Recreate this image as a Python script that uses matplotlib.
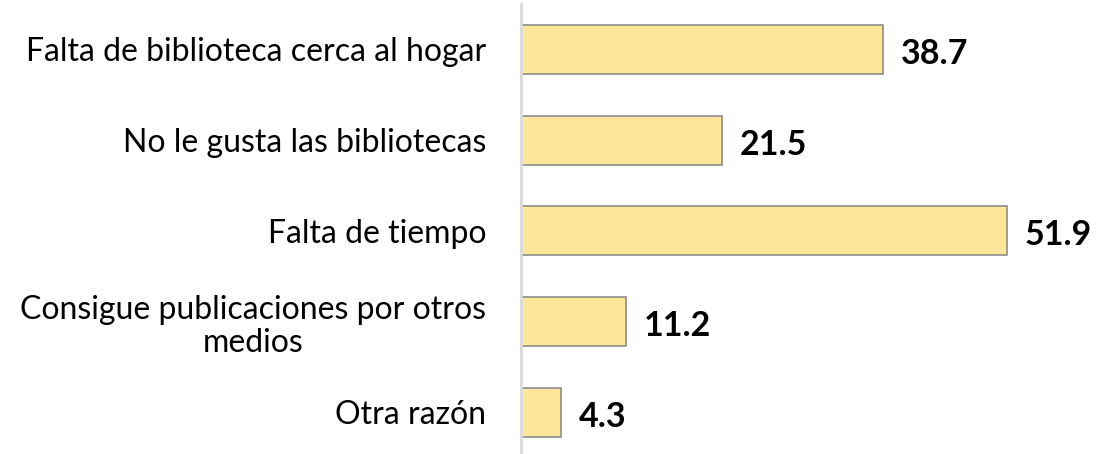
import matplotlib
matplotlib.use("Agg")
import matplotlib.pyplot as plt

categories = ["Falta de biblioteca cerca al hogar", "No le gusta las bibliotecas",
              "Falta de tiempo", "Consigue publicaciones por otros\nmedios", "Otra razón"]
values = [38.7, 21.5, 51.9, 11.2, 4.3]
value_labels = ["38.7", "21.5", "51.9", "11.2", "4.3"]

plt.rcParams['font.family'] = ['Lato', 'DejaVu Sans']
fig = plt.figure(figsize=(11.2, 4.54), dpi=100)
ax = fig.add_axes([521/1120, 0, 1 - 521/1120, 450/454])

pos = list(range(len(categories)))
ax.barh(pos, values, height=0.54, color="#FFE699", edgecolor="#8C8C8C", linewidth=1.2)
ax.set_xlim(0, 64)
ax.set_ylim(4.46, -0.5)
ax.set_yticks(pos)
ax.set_yticklabels(categories, fontsize=23, multialignment="center", color="#000000",
                   linespacing=1.15)
ax.tick_params(axis="y", length=0, pad=25)
ax.set_xticks([])
for s in ["top", "right", "bottom"]:
    ax.spines[s].set_visible(False)
ax.spines["left"].set_color("#D9D9D9")
ax.spines["left"].set_linewidth(2)

for p, v, t in zip(pos, values, value_labels):
    ax.text(v + 1.9, p + 0.05, t, va="center", ha="left", fontsize=24.5, fontweight="bold", color="#000000")

fig.savefig("out.png", dpi=100)
